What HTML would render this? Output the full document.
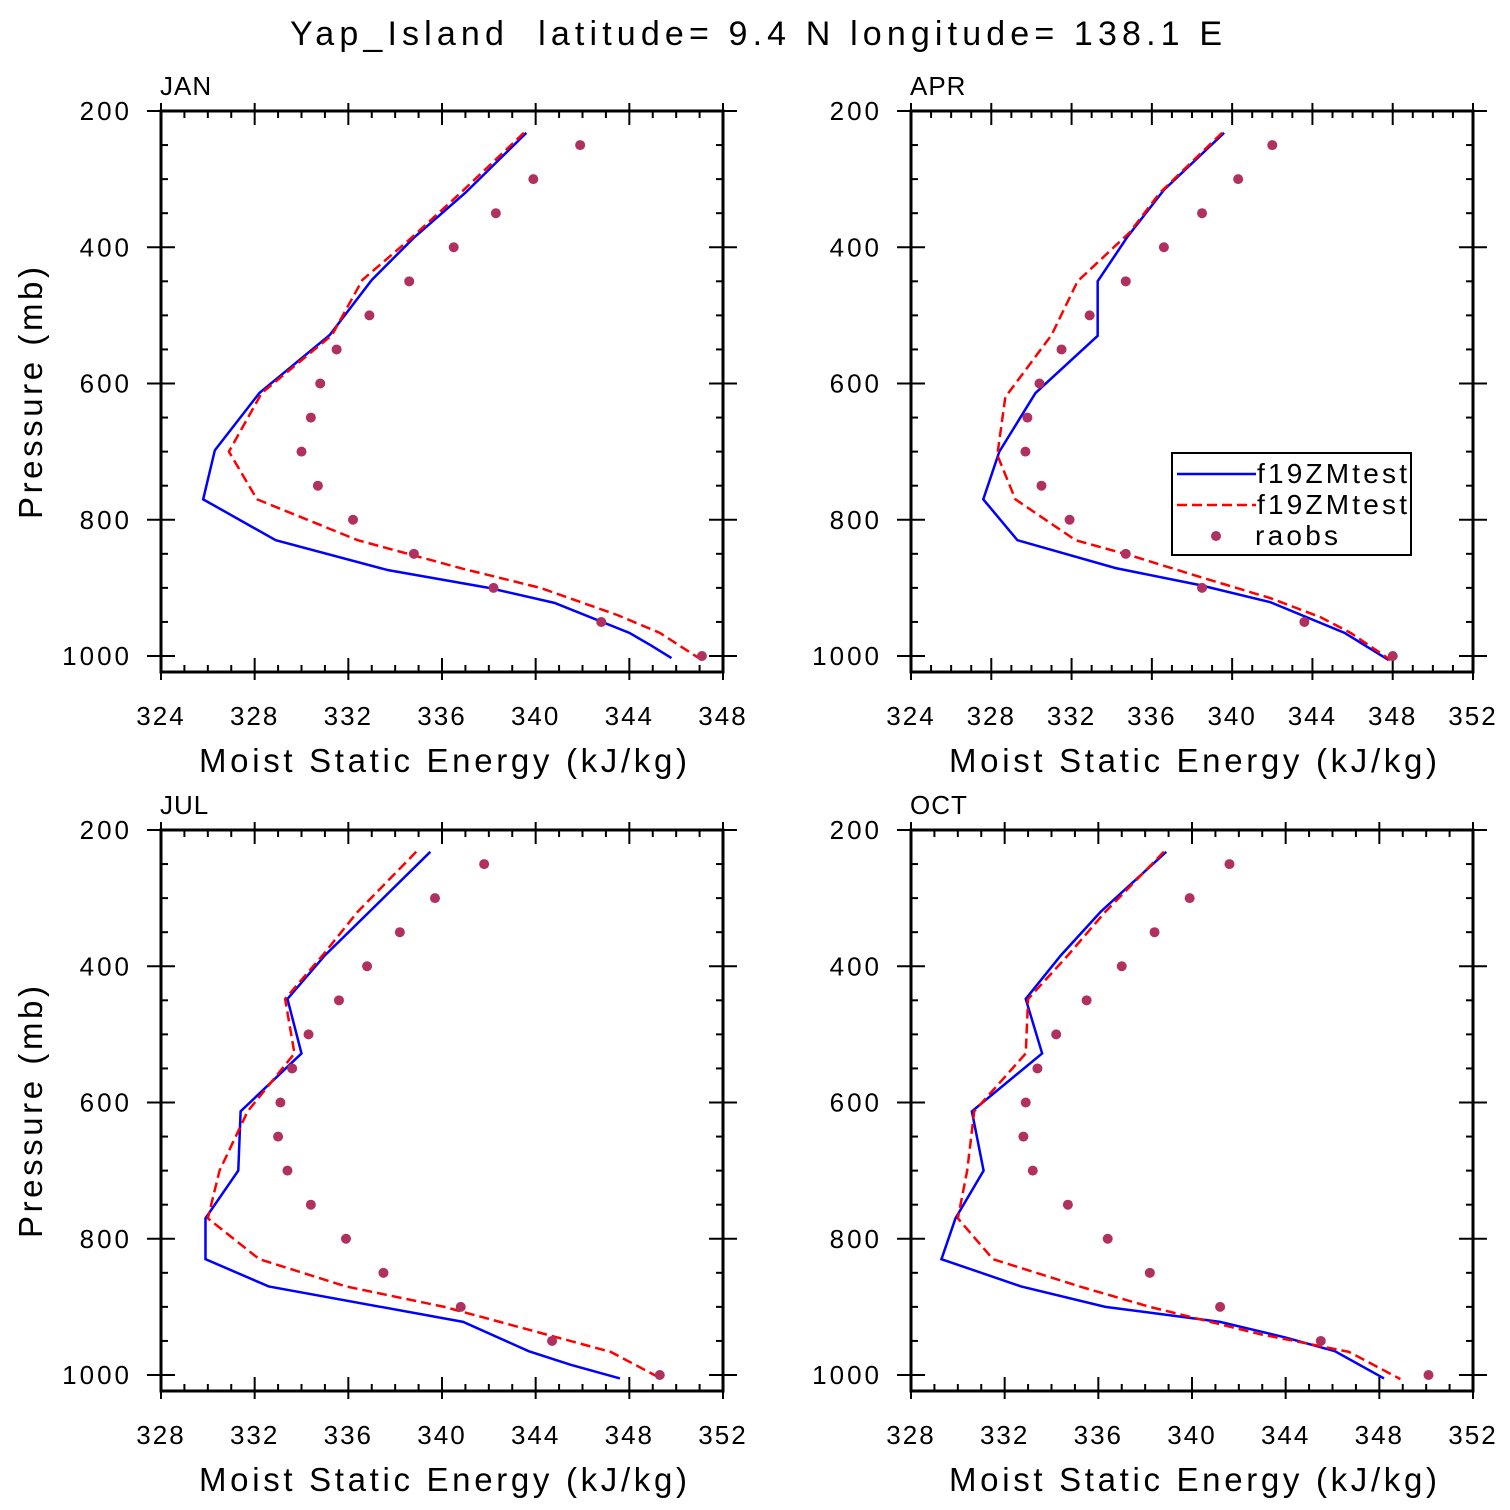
<!DOCTYPE html>
<html><head><meta charset="utf-8"><style>
html,body{margin:0;padding:0;background:#fff}
svg{display:block;font-family:"Liberation Sans",sans-serif}
text{white-space:pre}
</style></head><body>
<svg id="chart" width="1510" height="1510" viewBox="0 0 1510 1510" xmlns="http://www.w3.org/2000/svg">
<text x="290" y="45" font-size="34" textLength="932" lengthAdjust="spacing">Yap_Island  latitude= 9.4 N longitude= 138.1 E</text>
</svg>
<script>
const raobP=[250,300,350,400,450,500,550,600,650,700,750,800,850,900,950,1000];
const janRaob=[341.9,339.9,338.3,336.5,334.6,332.9,331.5,330.8,330.4,330.0,330.7,332.2,334.8,338.2,342.8,347.1];
const janBlueP=[232,320,386,448,529,614,698,770,830,874,900,922,966,984,1003];
const janBlue=[339.6,337.0,334.8,333.0,331.2,328.2,326.3,325.8,328.9,333.7,338.0,340.8,344.0,344.9,345.8];
const janRedP=[232,320,386,448,529,614,700,770,830,872,900,940,966,1006];
const janRed=[339.5,336.8,334.7,332.6,331.3,328.3,326.9,328.1,332.4,336.9,340.2,343.5,345.3,347.1];
const aprRaob=[342.0,340.3,338.5,336.6,334.7,332.9,331.5,330.4,329.8,329.7,330.5,331.9,334.7,338.5,343.6,348.0];
const aprBlueP=[232,316,384,450,530,614,700,770,830,871,896,921,966,1006];
const aprBlue=[339.6,336.6,334.8,333.3,333.3,330.2,328.4,327.6,329.3,334.2,338.4,341.9,345.6,347.8];
const aprRedP=[232,320,378,450,529,620,705,770,830,852,884,915,943,966,1006];
const aprRed=[339.5,336.4,334.9,332.3,331.0,328.7,328.3,329.2,332.2,334.9,338.4,341.9,344.4,345.9,347.9];
const julRaob=[341.8,339.7,338.2,336.8,335.6,334.3,333.6,333.1,333.0,333.4,334.4,335.9,337.5,340.8,344.7,349.3];
const julBlueP=[232,320,384,448,528,613,700,770,830,870,922,965,985,1005];
const julBlue=[339.5,336.9,335.0,333.4,334.0,331.4,331.3,329.9,329.9,332.6,340.9,343.7,345.5,347.6];
const julRedP=[232,320,384,448,528,613,700,770,830,870,900,940,966,1006];
const julRed=[338.9,336.4,334.9,333.3,333.7,331.7,330.5,330.0,332.2,335.9,340.1,344.4,347.2,349.4];
const octRaob=[341.6,339.9,338.4,337.0,335.5,334.2,333.4,332.9,332.8,333.2,334.7,336.4,338.2,341.2,345.5,350.1];
const octBlueP=[232,320,384,448,528,613,700,770,830,870,900,922,945,965,1005];
const octBlue=[338.9,336.1,334.4,332.9,333.6,330.6,331.1,329.9,329.3,332.7,336.3,341.2,344.0,346.1,348.2];
const octRedP=[232,320,384,448,528,613,700,770,830,870,900,940,966,1006];
const octRed=[338.8,336.3,334.7,333.0,332.9,330.7,330.4,330.0,331.5,335.2,338.2,342.9,346.7,348.9];
const yTicks=[200,400,600,800,1000];

const NS="http://www.w3.org/2000/svg";
const svg=document.getElementById('chart');
function mk(tag,attrs,parent){const e=document.createElementNS(NS,tag);for(const k in attrs)e.setAttribute(k,attrs[k]);(parent||svg).appendChild(e);return e;}

const panels=[
 {name:'jan',label:'JAN',x0:161,x1:723,y0:111,xmin:324,xmax:348,raob:janRaob,bp:janBlueP,b:janBlue,rp:janRedP,r:janRed},
 {name:'apr',label:'APR',x0:911,x1:1473,y0:111,xmin:324,xmax:352,raob:aprRaob,bp:aprBlueP,b:aprBlue,rp:aprRedP,r:aprRed,legend:true},
 {name:'jul',label:'JUL',x0:161,x1:723,y0:830,xmin:328,xmax:352,raob:julRaob,bp:julBlueP,b:julBlue,rp:julRedP,r:julRed},
 {name:'oct',label:'OCT',x0:911,x1:1473,y0:830,xmin:328,xmax:352,raob:octRaob,bp:octBlueP,b:octBlue,rp:octRedP,r:octRed}
];
const PY=0.68125;
panels.forEach(pn=>{
 const g=mk('g',{});
 
 
 const xs=v=>pn.x0+(v-pn.xmin)*(pn.x1-pn.x0)/(pn.xmax-pn.xmin);
 const ys=p=>pn.y0+(p-200)*PY;
 const yb=pn.y0+561;
 const fr=mk('rect',{x:pn.x0,y:pn.y0,width:pn.x1-pn.x0,height:yb-pn.y0,fill:'none',stroke:'#000','stroke-width':3},g);
 
 
 for(let v=pn.xmin;v<=pn.xmax;v++){
  const x=xs(v),maj=(v%4===0),L=maj?14:7;
  mk('line',{x1:x,y1:yb,x2:x,y2:yb-L,stroke:'#000','stroke-width':2},g);
  mk('line',{x1:x,y1:pn.y0,x2:x,y2:pn.y0+L,stroke:'#000','stroke-width':2},g);
  if(maj){
   mk('line',{x1:x,y1:yb,x2:x,y2:yb+8,stroke:'#000','stroke-width':2},g);
   mk('line',{x1:x,y1:pn.y0,x2:x,y2:pn.y0-8,stroke:'#000','stroke-width':2},g);
   const t=mk('text',{x:x,y:yb+53,'font-size':26,'text-anchor':'middle','letter-spacing':2},g);
   
   
   t.textContent=v;
  }
 }
 for(let p=200;p<=1000;p+=50){
  const y=ys(p),maj=(p%200===0),L=maj?14:7;
  mk('line',{x1:pn.x0,y1:y,x2:pn.x0+L,y2:y,stroke:'#000','stroke-width':2},g);
  mk('line',{x1:pn.x1,y1:y,x2:pn.x1-L,y2:y,stroke:'#000','stroke-width':2},g);
  if(maj){
   mk('line',{x1:pn.x0,y1:y,x2:pn.x0-14,y2:y,stroke:'#000','stroke-width':2},g);
   mk('line',{x1:pn.x1,y1:y,x2:pn.x1+14,y2:y,stroke:'#000','stroke-width':2},g);
  }
 }
 yTicks.forEach(p=>{
  const t=mk('text',{x:pn.x0-29,y:ys(p)+9,'font-size':26,'text-anchor':'end','letter-spacing':3},g);
  
  
  t.textContent=p;
 });
 const mt=mk('text',{x:pn.x0-1,y:pn.y0-16,'font-size':26,'letter-spacing':1},g);
 
 
 mt.textContent=pn.label;
 const xt=mk('text',{x:pn.x0+38,y:yb+100,'font-size':33,textLength:488,lengthAdjust:'spacing'},g);
 
 
 xt.textContent='Moist Static Energy (kJ/kg)';
 if(pn.x0<500){
  const cy=pn.y0+282;
  const yt=mk('text',{x:42,y:cy,'font-size':33,'text-anchor':'middle',textLength:252,lengthAdjust:'spacing',transform:'rotate(-90 42 '+cy+')'},g);
  
  
  yt.textContent='Pressure (mb)';
 }
 const bl=mk('polyline',{points:pn.b.map((v,i)=>xs(v)+','+ys(pn.bp[i])).join(' '),fill:'none',stroke:'#0000ff','stroke-width':2.5},g);
 
 
 const rl=mk('polyline',{points:pn.r.map((v,i)=>xs(v)+','+ys(pn.rp[i])).join(' '),fill:'none',stroke:'#ff0000','stroke-width':2.5,'stroke-dasharray':'10,5'},g);
 
 
 pn.raob.forEach((v,i)=>{
  const c=mk('circle',{cx:xs(v),cy:ys(raobP[i]),r:5,fill:'#b03060'},g);
  
  
 });
 if(pn.legend){
  const lg=mk('g',{},g);
  
  
  mk('rect',{x:1172,y:453,width:239,height:102,fill:'#fff',stroke:'#000','stroke-width':2},lg);
  mk('line',{x1:1177,y1:474,x2:1256,y2:474,stroke:'#0000ff','stroke-width':2.5},lg);
  mk('line',{x1:1177,y1:505,x2:1256,y2:505,stroke:'#ff0000','stroke-width':2.5,'stroke-dasharray':'10,5'},lg);
  mk('circle',{cx:1216,cy:536,r:5,fill:'#b03060'},lg);
  [['f19ZMtest',483,150],['f19ZMtest',514,150],['raobs',545,83]].forEach((d,i)=>{
   const t=mk('text',{x:i<2?1257:1255,y:d[1],'font-size':28,textLength:d[2],lengthAdjust:'spacing'},lg);
   
   
   t.textContent=d[0];
  });
 }
});
</script>
</body></html>
